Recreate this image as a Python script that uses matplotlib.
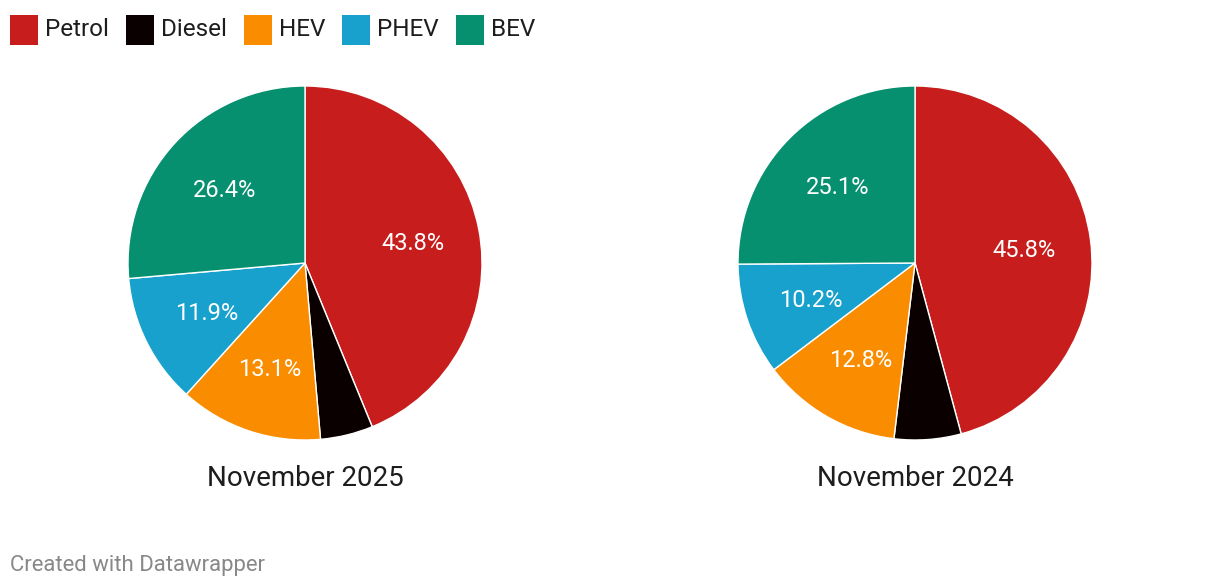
import matplotlib
matplotlib.use("Agg")
import matplotlib.pyplot as plt
from matplotlib.patches import Rectangle

plt.rcParams['font.family'] = ['Roboto', 'DejaVu Sans']

categories = ["Petrol", "Diesel", "HEV", "PHEV", "BEV"]
colors = ["#c71e1d", "#0b0000", "#fa8c00", "#18a1cd", "#06906f"]
titles = ["November 2025", "November 2024"]
values_2025 = [43.8, 4.8, 13.1, 11.9, 26.4]
values_2024 = [45.8, 6.1, 12.8, 10.2, 25.1]
series = [values_2025, values_2024]

W, H = 1220, 588
fig = plt.figure(figsize=(W / 100, H / 100), dpi=100)
fig.patch.set_facecolor("white")

def px_axes(cx, cy, r):
    return fig.add_axes([(cx - r) / W, (H - cy - r) / H, 2 * r / W, 2 * r / H])

centers = [(305, 263), (915, 263)]
R = 177
for (cx, cy), vals, title in zip(centers, series, titles):
    ax = px_axes(cx, cy, R)
    wedges, texts, autotexts = ax.pie(
        vals, colors=colors, startangle=90, counterclock=False,
        radius=1.0,
        autopct=lambda p: f"{p:.1f}%" if p >= 8 else "",
        pctdistance=0.62,
        wedgeprops=dict(edgecolor="white", linewidth=1.0),
        textprops=dict(color="white", fontsize=17),
    )
    for at in autotexts:
        x0, y0 = at.get_position()
        at.set_position((x0, y0 - 2 / R))
    ax.set_xlim(-1.0, 1.0)
    ax.set_ylim(-1.0, 1.0)
    ax.set_aspect("auto")
    ax.axis("off")
    fig.text(cx / W, 1 - 479 / H, title, ha="center", va="center",
             fontsize=20, color="#1d1d1d")

# legend
fig.canvas.draw()
renderer = fig.canvas.get_renderer()
x = 10
for cat, col in zip(categories, colors):
    fig.patches.append(Rectangle((x / W, 1 - 45 / H), 28 / W, 30 / H,
                                 transform=fig.transFigure, facecolor=col,
                                 edgecolor="none", figure=fig))
    t = fig.text((x + 35) / W, 1 - 30 / H, cat, ha="left", va="center",
                 fontsize=17.5, color="#1d1d1d")
    bb = t.get_window_extent(renderer)
    x = bb.x1 + 17

fig.text(10 / W, 1 - 566 / H, "Created with Datawrapper", ha="left",
         va="center", fontsize=15.9, color="#888888")

fig.savefig("out.png", dpi=100, facecolor="white")
